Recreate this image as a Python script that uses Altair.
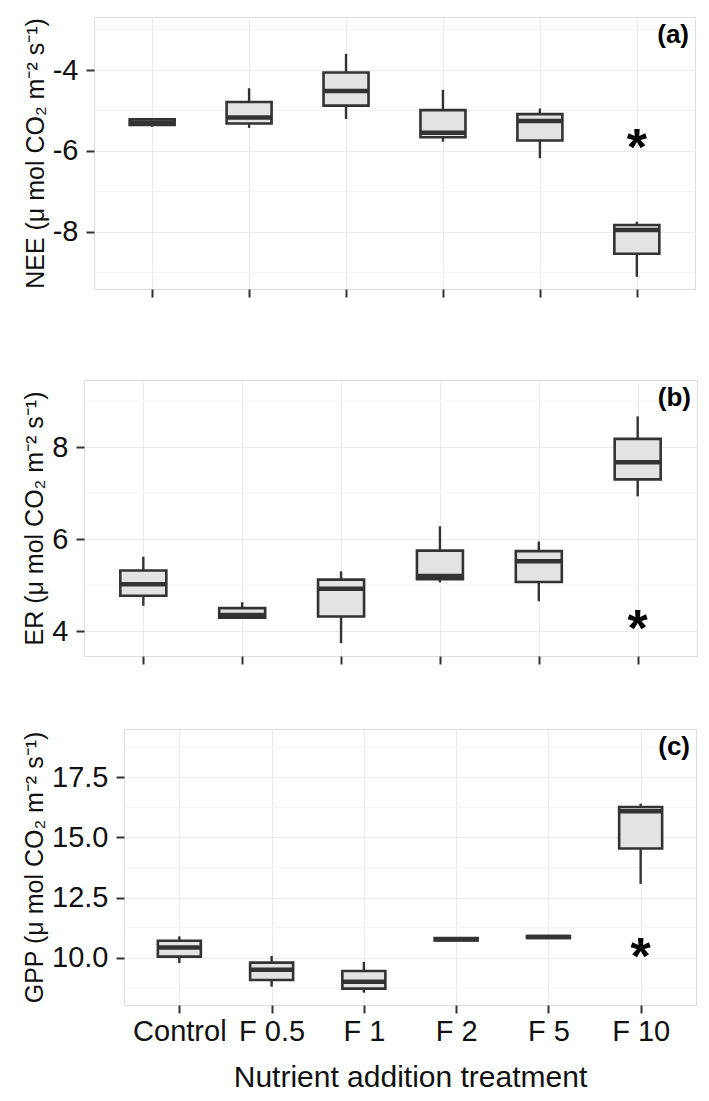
import altair as alt
import pandas as pd

cats = ["Control", "F 0.5", "F 1", "F 2", "F 5", "F 10"]

# NEE panel (a)
nee_lo = [-5.40, -5.43, -5.21, -5.77, -6.18, -9.11]
nee_q1 = [-5.36, -5.32, -4.88, -5.66, -5.74, -8.54]
nee_med = [-5.30, -5.17, -4.52, -5.55, -5.26, -7.95]
nee_q3 = [-5.22, -4.79, -4.06, -4.99, -5.09, -7.83]
nee_hi = [-5.22, -4.45, -3.60, -4.49, -4.95, -7.75]

# ER panel (b)
er_lo = [4.55, 4.28, 3.74, 5.06, 4.65, 6.93]
er_q1 = [4.77, 4.29, 4.32, 5.13, 5.07, 7.30]
er_med = [5.02, 4.35, 4.92, 5.20, 5.52, 7.67]
er_q3 = [5.32, 4.50, 5.12, 5.75, 5.74, 8.18]
er_hi = [5.62, 4.63, 5.30, 6.28, 5.95, 8.67]

# GPP panel (c)
gpp_lo = [9.78, 8.80, 8.55, 10.70, 10.80, 13.07]
gpp_q1 = [10.05, 9.08, 8.72, 10.72, 10.82, 14.54]
gpp_med = [10.43, 9.50, 9.01, 10.77, 10.86, 16.08]
gpp_q3 = [10.71, 9.80, 9.45, 10.82, 10.90, 16.26]
gpp_hi = [10.89, 10.08, 9.83, 10.85, 10.92, 16.40]

star_cat = ["F 10"]
star_y = [-5.65, 4.28, 10.5]

panel_letters = ["(a)", "(b)", "(c)"]
y_titles = ["NEE (μ mol CO₂ m⁻² s⁻¹)", "ER (μ mol CO₂ m⁻² s⁻¹)", "GPP (μ mol CO₂ m⁻² s⁻¹)"]
y_domains = [[-9.41, -2.69], [3.46, 9.46], [8.04, 19.5]]
y_ticks = [[-8, -6, -4], [4, 6, 8], [10.0, 12.5, 15.0, 17.5]]
y_minor = [[-9, -7, -5, -3], [5, 7, 9], [8.75, 11.25, 13.75, 16.25, 18.75]]
y_formats = ["d", "d", ".1f"]
widths = [601, 613, 572]
heights = [272, 276, 276]
box_w = [45, 46, 43]

FONT = "Liberation Sans"
DARK = "#333333"
FILL = "#e3e3e3"


def panel(i, lo, q1, med, q3, hi, last):
    df = pd.DataFrame({"cat": cats, "lo": lo, "q1": q1, "med": med, "q3": q3, "hi": hi})
    xscale = alt.Scale(type="point", domain=cats, padding=0.6)
    yscale = alt.Scale(domain=y_domains[i], nice=False, zero=False)
    xaxis = alt.Axis(
        title="Nutrient addition treatment" if last else None,
        labels=last, labelAngle=0, grid=True, gridColor="#ebebeb", domain=False,
        ticks=True, tickColor=DARK, tickWidth=2, tickSize=8,
        labelFontSize=29, labelFont=FONT, labelColor="#111", labelPadding=4,
        titleFontSize=30, titleFont=FONT, titleFontWeight="normal", titleColor="#111",
        titlePadding=16,
    )
    yaxis = alt.Axis(
        title=y_titles[i], values=y_ticks[i], format=y_formats[i],
        labelExpr="replace(datum.label, '\u2212', '-')",
        grid=True, gridColor="#ebebeb", domain=False,
        tickColor=DARK, tickWidth=2, tickSize=8,
        labelFontSize=29, labelFont=FONT, labelColor="#111", labelPadding=8,
        titleFontSize=25, titleFont=FONT, titleFontWeight="normal", titleColor="#111",
        titlePadding=4,
    )
    base = alt.Chart(df)
    minor = alt.Chart(pd.DataFrame({"v": y_minor[i]})).mark_rule(
        color="#f3f3f3", strokeWidth=1
    ).encode(y=alt.Y("v:Q", scale=yscale, axis=yaxis))
    x = alt.X("cat:N", scale=xscale, axis=xaxis, sort=cats)
    w_low = base.mark_rule(color=DARK, strokeWidth=2.4).encode(
        x=x, y=alt.Y("lo:Q", scale=yscale), y2="q1:Q")
    w_high = base.mark_rule(color=DARK, strokeWidth=2.4).encode(
        x=x, y=alt.Y("q3:Q", scale=yscale), y2="hi:Q")
    box = base.mark_bar(size=box_w[i], fill=FILL, stroke=DARK, strokeWidth=2.6,
                        opacity=1).encode(
        x=x, y=alt.Y("q1:Q", scale=yscale), y2="q3:Q")
    median = base.mark_tick(size=box_w[i], thickness=4.5, color=DARK, opacity=1).encode(
        x=x, y=alt.Y("med:Q", scale=yscale))
    star = alt.Chart(pd.DataFrame({"cat": star_cat, "v": [star_y[i]]})).mark_text(
        text="*", font=FONT, fontSize=52, fontWeight="bold", color="#000",
        baseline="middle", dy=12
    ).encode(x=x, y=alt.Y("v:Q", scale=yscale))
    letter = alt.Chart(pd.DataFrame({"t": [panel_letters[i]]})).mark_text(
        font=FONT, fontSize=26, fontWeight="bold", color="#000",
        align="right", baseline="top"
    ).encode(text="t:N", x=alt.value(widths[i] - 6), y=alt.value(5))
    return alt.layer(minor, w_low, w_high, box, median, star, letter).properties(
        width=widths[i], height=heights[i]
    )


def spacer(h):
    return alt.Chart(pd.DataFrame({"a": [0]})).mark_point(opacity=0).encode(
        x=alt.value(0), y=alt.value(0)
    ).properties(width=1, height=h, view=alt.ViewBackground(stroke="transparent"))


pa = panel(0, nee_lo, nee_q1, nee_med, nee_q3, nee_hi, False)
pb = panel(1, er_lo, er_q1, er_med, er_q3, er_hi, False)
pc = panel(2, gpp_lo, gpp_q1, gpp_med, gpp_q3, gpp_hi, True)

row_a = alt.hconcat(spacer(heights[0]), pa, spacing=0)
row_b = alt.hconcat(spacer(heights[1]), pb, spacing=0)
row_c = alt.hconcat(spacer(heights[2]), pc, spacing=0)

chart = alt.vconcat(
    alt.vconcat(row_a, row_b, spacing=77), row_c, spacing=59
).configure_view(
    stroke="#888888", strokeWidth=1.2
).configure(background="white", padding={"left": 6, "top": 5, "right": 3, "bottom": 0})

chart.save("out.html", embed_options={"renderer": "svg", "actions": False})
